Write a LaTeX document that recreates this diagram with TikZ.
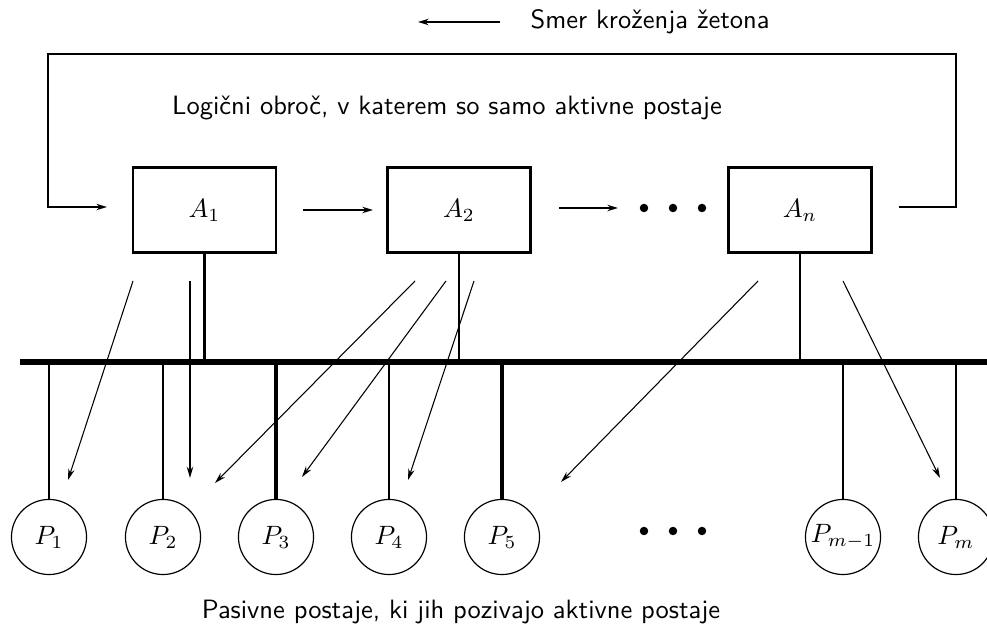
\documentclass[tikz,border=0pt]{standalone}
\usepackage{fontspec}
\usetikzlibrary{arrows.meta}
\begin{document}
\begin{tikzpicture}[x=0.377pt,y=-0.377pt,
  abox/.style={draw,line width=0.9pt,minimum width=54pt,minimum height=32pt,inner sep=0pt},
  pcirc/.style={draw,circle,line width=0.45pt,minimum size=28.3pt,inner sep=0pt},
  loopline/.style={line width=0.6pt},
  tip/.style={-{Stealth[length=4pt,width=2.4pt]}},
  thin arrow/.style={line width=0.4pt,-{Stealth[length=4.2pt,width=2.4pt]}},
  drop/.style={line width=0.85pt},
  thickdrop/.style={line width=1.2pt},
  dot/.style={circle,fill,inner sep=0pt,minimum size=3.2pt},
  lbl/.style={font=\sffamily,inner sep=0pt}]
\useasboundingbox (0,0) rectangle (987,634);

% title
\node[lbl,anchor=west] (title) at (530,22) {Smer kroženja žetona};
\coordinate (ta) at (500,22);
\coordinate (tb) at (418,22);
\draw[loopline,tip] (ta) -- (tb);

\node[lbl] (ring) at (447,108) {Logični obroč, v katerem so samo aktivne postaje};

% active stations
\node[abox] (a1) at (204.5,210) {$A_1$};
\node[abox] (a2) at (459,210) {$A_2$};
\node[abox] (an) at (800,210) {$A_n$};

% dots
\node[dot] (d1) at (644,208) {};
\node[dot] (d2) at (673,208) {};
\node[dot] (d3) at (702,208) {};

% loop
\coordinate (lr) at (899,207);
\coordinate (ll) at (107,207);
\draw[loopline,tip] (lr) -- (956,207) -- (956,54) -- (48,54) -- (48,207) -- (ll);

% arrows between boxes
\coordinate (r1s) at (303,210);
\coordinate (r1e) at (373,210);
\coordinate (r2s) at (559,208);
\coordinate (r2e) at (618,208);
\draw[loopline,tip] (r1s) -- (r1e);
\draw[loopline,tip] (r2s) -- (r2e);

% bus
\coordinate (busl) at (20,362);
\coordinate (busr) at (987,362);
\draw[line width=2.4pt] (busl) -- (busr);

\draw[drop] (a1.south) -- (a1.south |- busl);
\draw[drop] (a2.south) -- (a2.south |- busl);
\draw[drop] (an.south) -- (an.south |- busl);

% passive stations
\node[pcirc] (p1) at (49,537) {$P_1$};
\node[pcirc] (p2) at (163,537) {$P_2$};
\node[pcirc] (p3) at (276,537) {$P_3$};
\node[pcirc] (p4) at (389,537) {$P_4$};
\node[pcirc] (p5) at (502,537) {$P_5$};
\node[pcirc] (pm1) at (843,537) {$P_{m-1}$};
\node[pcirc] (pm) at (956,537) {$P_m$};

\node[dot] (e1) at (644,531) {};
\node[dot] (e2) at (673,531) {};
\node[dot] (e3) at (702,531) {};

\draw[drop] (p1.north) -- (p1.north |- busl);
\draw[drop] (p2.north) -- (p2.north |- busl);
\draw[thickdrop] (p3.north) -- (p3.north |- busl);
\draw[drop] (p4.north) -- (p4.north |- busl);
\draw[thickdrop] (p5.north) -- (p5.north |- busl);
\draw[drop] (pm1.north) -- (pm1.north |- busl);
\draw[drop] (pm.north) -- (pm.north |- busl);

% polling arrows
\coordinate (s1) at (133,281); \coordinate (t1) at (68,480);
\coordinate (s2) at (190,281); \coordinate (t2) at (190,478);
\coordinate (s3) at (415,281); \coordinate (t3) at (215,483);
\coordinate (s4) at (446,281); \coordinate (t4) at (302,477);
\coordinate (s5) at (474,281); \coordinate (t5) at (408,480);
\coordinate (s6) at (758,281); \coordinate (t6) at (561,482);
\coordinate (s7) at (843,281); \coordinate (t7) at (940,478);
\draw[thin arrow] (s1) -- (t1);
\draw[thin arrow,line width=0.7pt] (s2) -- (t2);
\draw[thin arrow] (s3) -- (t3);
\draw[thin arrow] (s4) -- (t4);
\draw[thin arrow] (s5) -- (t5);
\draw[thin arrow] (s6) -- (t6);
\draw[thin arrow] (s7) -- (t7);

\node[lbl] (bottom) at (461,612) {Pasivne postaje, ki jih pozivajo aktivne postaje};
\end{tikzpicture}
\end{document}
